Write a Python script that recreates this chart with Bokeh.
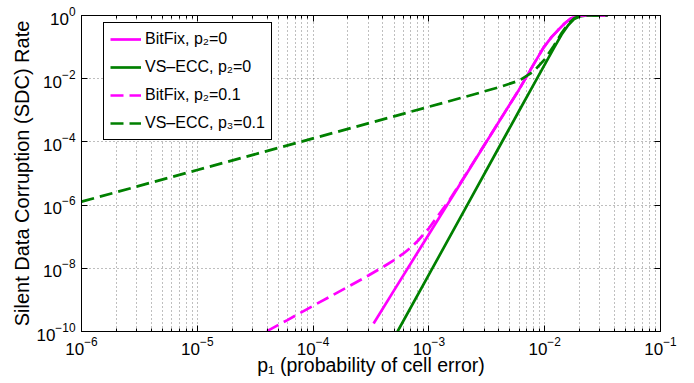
from bokeh.plotting import figure
from bokeh.models import (FixedTicker, LogAxis, Legend, LegendItem,
                          CustomJSTickFormatter, Range1d)
from bokeh.embed import file_html
from bokeh.resources import INLINE

# ---- data ----
bitfix_p2_0_x = [3.33e-4, 5e-4, 1e-3, 2e-3, 4e-3, 6e-3, 8e-3, 9.8e-3, 1.15e-2,
                 1.3e-2, 1.5e-2, 1.68e-2, 1.93e-2, 2.2e-2, 3.5e-2]
bitfix_p2_0_y = [1.8e-10, 2.0e-9, 1.2e-7, 7.1e-6, 4.2e-4, 4.5e-3, 2.8e-2, 9.8e-2, 0.21,
                 0.34, 0.58, 0.80, 0.95, 1.0, 1.0]

vsecc_p2_0_x = [5.36e-4, 1e-3, 2e-3, 4e-3, 6e-3, 8e-3, 1e-2, 1.2e-2, 1.4e-2,
                1.6e-2, 1.8e-2, 2e-2, 2.3e-2, 3.5e-2]
vsecc_p2_0_y = [1.0e-10, 6.3e-9, 6.3e-7, 6.4e-5, 9.5e-4, 6.4e-3, 2.8e-2, 9.3e-2, 0.25,
                0.50, 0.78, 0.93, 1.0, 1.0]

bitfix_p2_01_x = [4.0e-5, 6e-5, 1e-4, 2e-4, 3e-4, 4e-4, 5e-4, 6e-4, 7e-4, 8e-4, 1e-3,
                  1.5e-3, 2e-3, 4e-3, 6e-3, 8e-3, 9.8e-3, 1.15e-2, 1.3e-2, 1.5e-2,
                  1.68e-2, 1.93e-2, 2.2e-2, 3.5e-2]
bitfix_p2_01_y = [1.03e-10, 2.3e-10, 6.5e-10, 2.6e-9, 5.9e-9, 1.09e-8, 1.81e-8, 2.9e-8,
                  4.6e-8, 7.3e-8, 1.84e-7, 1.43e-6, 7.4e-6, 4.2e-4, 4.5e-3, 2.8e-2,
                  9.8e-2, 0.21, 0.34, 0.58, 0.80, 0.95, 1.0, 1.0]

vsecc_p3_01_x = [1e-6, 1e-5, 1e-4, 1e-3, 2e-3, 4e-3, 6e-3, 8e-3, 1e-2, 1.2e-2, 1.4e-2,
                 1.6e-2, 1.8e-2, 2e-2, 2.3e-2, 3.5e-2]
vsecc_p3_01_y = [1.29e-6, 1.29e-5, 1.29e-4, 1.29e-3, 2.6e-3, 5.3e-3, 8.7e-3, 1.67e-2,
                 4.1e-2, 0.11, 0.28, 0.55, 0.82, 0.95, 1.0, 1.0]

x_major = [1e-6, 1e-5, 1e-4, 1e-3, 1e-2, 1e-1]
x_minor = [m * t for t in x_major[:-1] for m in range(2, 10)]
y_major = [1e-10, 1e-8, 1e-6, 1e-4, 1e-2, 1.0]

series_labels = ["BitFix, p\u2082=0", "VS\u2013ECC, p\u2082=0",
                 "BitFix, p\u2082=0.1", "VS\u2013ECC, p\u2083=0.1"]

FONT = "Liberation Sans"
MAGENTA = "#ff00ff"
GREEN = "#008000"

p = figure(x_axis_type="log", y_axis_type="log",
           x_range=Range1d(1e-6, 1e-1), y_range=Range1d(1e-10, 1.0),
           frame_width=579, frame_height=316,
           min_border_left=81, min_border_right=26, min_border_top=15,
           min_border_bottom=50,
           output_backend="svg", toolbar_location=None,
           background_fill_color="white", border_fill_color="white")

xt = FixedTicker(ticks=x_major, minor_ticks=x_minor)
yt = FixedTicker(ticks=y_major, minor_ticks=[])

for ax in p.xaxis:
    ax.ticker = xt
for ax in p.yaxis:
    ax.ticker = yt

for ax in list(p.xaxis) + list(p.yaxis):
    ax.major_tick_in = 6
    ax.major_tick_out = 0
    ax.minor_tick_in = 3
    ax.minor_tick_out = 0
    ax.axis_line_color = "black"
    ax.major_tick_line_color = "black"
    ax.minor_tick_line_color = "black"
    ax.major_label_text_font = FONT
    ax.major_label_text_font_size = "17px"
    ax.major_label_text_color = "black"
    ax.axis_label_text_font = FONT
    ax.axis_label_text_font_style = "normal"
    ax.axis_label_text_color = "black"

p.xaxis.axis_label_text_font_size = "19.5px"
p.yaxis.axis_label_text_font_size = "20px"
p.xaxis.major_label_standoff = 5
p.yaxis.major_label_standoff = 6
p.xaxis.axis_label = "p\u2081 (probability of cell error)"
p.yaxis.axis_label = "Silent Data Corruption (SDC) Rate"
p.xaxis.axis_label_standoff = -4
p.yaxis.axis_label_standoff = 0

# box ticks on top and right
top = LogAxis(ticker=xt, formatter=CustomJSTickFormatter(code="return ''"),
              major_tick_in=6, major_tick_out=0, minor_tick_in=3, minor_tick_out=0,
              major_label_standoff=0, axis_line_color="black")
right = LogAxis(ticker=yt, formatter=CustomJSTickFormatter(code="return ''"),
                major_tick_in=6, major_tick_out=0, minor_tick_in=0, minor_tick_out=0,
                major_label_standoff=0, axis_line_color="black")
p.add_layout(top, "above")
p.add_layout(right, "right")

# grids
p.xgrid.grid_line_color = "#000000"
p.xgrid.grid_line_alpha = 0.5
p.xgrid.grid_line_dash = "1 3"
p.xgrid.minor_grid_line_color = "#000000"
p.xgrid.minor_grid_line_alpha = 0.5
p.xgrid.minor_grid_line_dash = "1 3"
p.ygrid.grid_line_color = "#000000"
p.ygrid.grid_line_alpha = 0.5
p.ygrid.grid_line_dash = "1 3"

p.outline_line_color = "black"
p.outline_line_width = 1
p.outline_line_alpha = 1

LW = 2.7
DASH = "13 6"
r1 = p.line(bitfix_p2_0_x, bitfix_p2_0_y, line_color=MAGENTA, line_width=LW)
r2 = p.line(vsecc_p2_0_x, vsecc_p2_0_y, line_color=GREEN, line_width=LW)
r3 = p.line(bitfix_p2_01_x, bitfix_p2_01_y, line_color=MAGENTA, line_width=LW,
            line_dash=DASH)
r4 = p.line(vsecc_p3_01_x, vsecc_p3_01_y, line_color=GREEN, line_width=LW,
            line_dash=DASH)

items = [LegendItem(label=lab, renderers=[r]) for lab, r in
         zip(series_labels, [r1, r2, r3, r4])]
legend = Legend(items=items, location=(22, 191),
                border_line_color="black", border_line_width=1, border_line_alpha=1,
                background_fill_color="white", background_fill_alpha=1,
                label_text_font=FONT, label_text_font_size="16px",
                label_text_color="black",
                glyph_width=31, glyph_height=20, label_height=20,
                spacing=8, padding=6, margin=0, label_standoff=4)
p.add_layout(legend)

open("out.html", "w").write(file_html(p, INLINE))
